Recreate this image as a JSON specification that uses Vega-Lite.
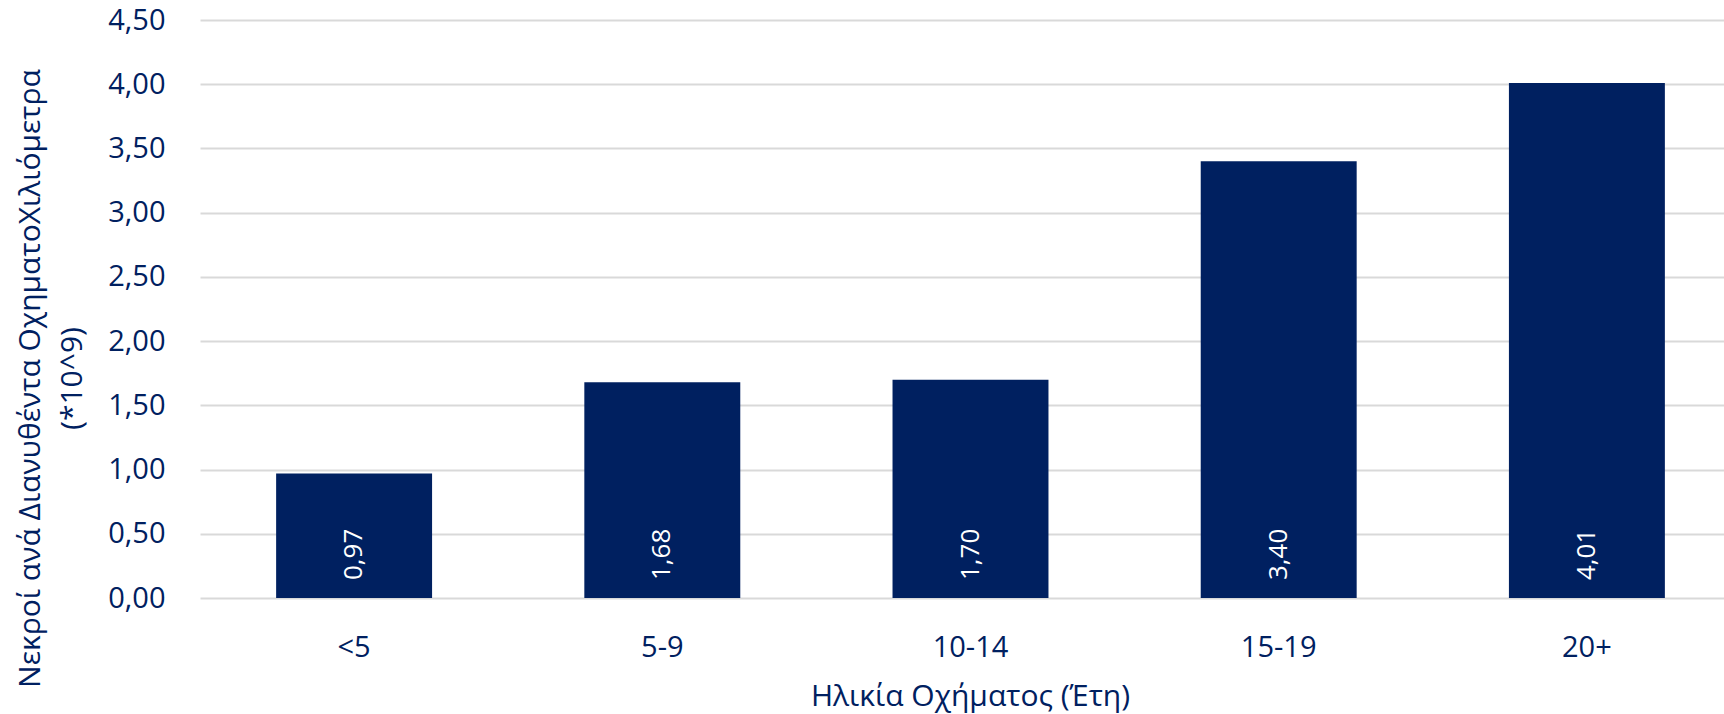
{
  "$schema": "https://vega.github.io/schema/vega-lite/v6.json",
  "width": 1524,
  "height": 578,
  "autosize": {"type": "none"},
  "padding": {"left": 200, "top": 20, "right": 0, "bottom": 116},
  "background": "white",
  "config": {
    "view": {"stroke": null},
    "font": "Open Sans",
    "locale": {"number": {"decimal": ",", "thousands": ".", "grouping": [3], "currency": ["", " €"]}}
  },
  "data": {
    "values": [
      {"age": "<5", "value": 0.97},
      {"age": "5-9", "value": 1.68},
      {"age": "10-14", "value": 1.70},
      {"age": "15-19", "value": 3.40},
      {"age": "20+", "value": 4.01}
    ]
  },
  "encoding": {
    "x": {
      "field": "age",
      "type": "nominal",
      "sort": null,
      "scale": {"range": [0, 1541], "paddingInner": 0.494, "paddingOuter": 0.247},
      "axis": {
        "title": "Ηλικία Οχήματος (Έτη)",
        "labelAngle": 0,
        "domain": false,
        "ticks": false,
        "labelPadding": 35,
        "labelFontSize": 29,
        "labelColor": "#002060",
        "labelFont": "Open Sans",
        "titleFontSize": 30,
        "titleFontWeight": "normal",
        "titleColor": "#002060",
        "titleFont": "Open Sans",
        "titleBaseline": "alphabetic",
        "titleX": 770,
        "titleY": 107,
        "titleAnchor": null
      }
    }
  },
  "layer": [
    {
      "mark": {"type": "bar", "color": "#002060"},
      "encoding": {
        "y": {
          "field": "value",
          "type": "quantitative",
          "scale": {"domain": [0, 4.5], "nice": false},
          "axis": {
            "values": [0, 0.5, 1, 1.5, 2, 2.5, 3, 3.5, 4, 4.5],
            "format": ".2f",
            "title": ["Νεκροί ανά Διανυθέντα ΟχηματοΧιλιόμετρα", "(*10^9)"],
            "grid": true,
            "gridColor": "#D9D9D9",
            "gridWidth": 2,
            "domain": false,
            "ticks": false,
            "labelPadding": 35,
            "labelFontSize": 29,
            "labelColor": "#002060",
            "labelFont": "Open Sans",
            "titleFontSize": 30,
            "titleFontWeight": "normal",
            "titleColor": "#002060",
            "titleFont": "Open Sans",
            "titleLineHeight": 42,
            "titleAngle": 270,
            "titleAlign": "center",
            "titleBaseline": "top",
            "titleX": -185,
            "titleY": 358
          }
        }
      }
    },
    {
      "mark": {"type": "text", "angle": 270, "align": "left", "baseline": "middle", "dx": 18, "color": "white", "fontSize": 26, "font": "Open Sans"},
      "encoding": {
        "y": {"datum": 0, "type": "quantitative"},
        "text": {"field": "value", "type": "quantitative", "format": ".2f"}
      }
    }
  ]
}
